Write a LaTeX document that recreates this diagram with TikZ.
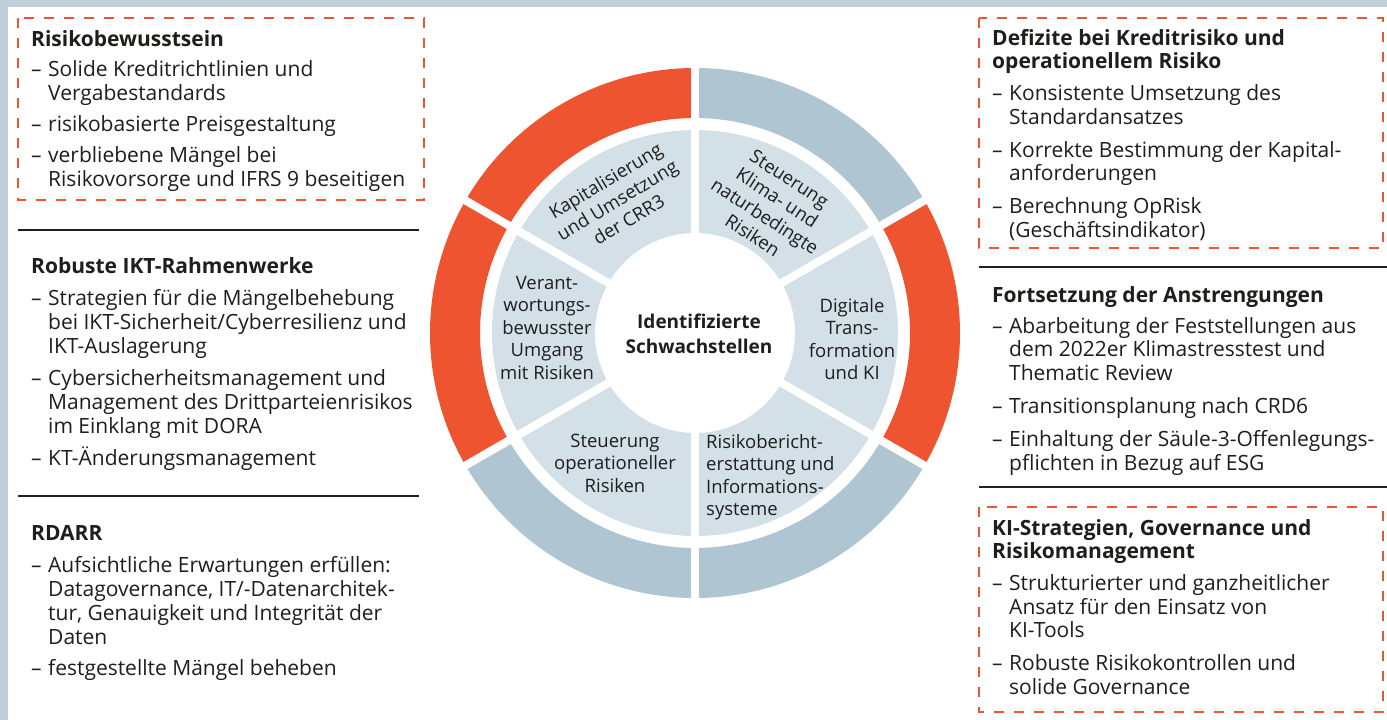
\documentclass[tikz,border=0pt]{standalone}
\usepackage{fontspec}
\setmainfont{Open Sans}
\definecolor{frameblue}{HTML}{C0CED8}
\definecolor{accent}{HTML}{EF5431}
\definecolor{ringblue}{HTML}{AFC5D2}
\definecolor{segblue}{HTML}{D3E0E8}
\definecolor{ink}{HTML}{1E1E1C}
\definecolor{rule}{HTML}{231F20}
% list helpers: dash with hanging indent
\newcommand\itm{\makebox[17pt][l]{–}}
\newcommand\cnt{\hspace*{17pt}}
% one ring sector: colour, start angle, end angle, inner radius, outer radius
\newcommand\ringsector[5]{\fill[#1] (#2:#4) arc[start angle=#2,end angle=#3,radius=#4] -- (#3:#5) arc[start angle=#3,end angle=#2,radius=#5] -- cycle;}
\tikzset{
  listL/.style={anchor=north west, inner sep=0pt, align=left, text=ink,
    font=\fontsize{21}{24}\selectfont},
  listR/.style={anchor=north west, inner sep=0pt, align=left, text=ink,
    font=\fontsize{21}{23.5}\selectfont},
  wheeltxt/.style={inner sep=0pt, align=center, text=ink,
    font=\fontsize{18.5}{22.5}\selectfont},
  dashbox/.style={draw=accent, line width=2.7pt, dash pattern=on 10pt off 10pt},
  sepline/.style={draw=rule, line width=2.7pt},
}
\begin{document}
\begin{tikzpicture}[x=1pt,y=1pt]
\useasboundingbox (0,0) rectangle (1387,720);
\fill[white] (0,0) rectangle (1387,720);
% frame bands
\fill[frameblue] (0,713) rectangle (1387,720);
\fill[frameblue] (0,0) rectangle (7.5,720);

% ---------- wheel ----------
\begin{scope}[shift={(695,387)}]
  \ringsector{accent}{90}{150}{215}{265}
  \ringsector{ringblue}{30}{90}{215}{265}
  \ringsector{accent}{-30}{30}{215}{265}
  \ringsector{ringblue}{-90}{-30}{215}{265}
  \ringsector{ringblue}{-150}{-90}{215}{265}
  \ringsector{accent}{150}{210}{215}{265}
  \ringsector{segblue}{0}{360}{100}{203}
  \foreach \a in {30,90,...,330}
    \draw[white, line width=8pt] (\a:90) -- (\a:272);
\end{scope}

\node[wheeltxt, font=\fontsize{19}{25}\selectfont\bfseries, anchor=north]
  (core) at (699,409.5) {\strut Identifizierte\\Schwachstellen};
\node[wheeltxt, anchor=north] (resp) at (547,446.75)
  {\strut Verant-\\wortungs-\\bewusster\\Umgang\\mit Risiken};
\node[wheeltxt, anchor=north] (digi) at (852,423.75)
  {\strut Digitale\\Trans-\\formation\\und KI};
\node[wheeltxt, anchor=north] (oper) at (615,288.75)
  {\strut Steuerung\\operationeller\\Risiken};
\node[wheeltxt, align=left, anchor=north west] (rdarr) at (706,287.75)
  {\strut Risikobericht-\\erstattung und\\Informations-\\systeme};
\node[wheeltxt, rotate=31] (capital) at (617,520)
  {Kapitalisierung\\und Umsetzung\\der CRR3};
\node[wheeltxt, rotate=-33] (climate) at (771,513)
  {Steuerung\\Klima- und\\naturbedingte\\Risiken};

% ---------- left column ----------
\draw[dashbox] (18,702) rectangle (424,520);
\node[listL] (awareness) at (31,690.8) {\strut\textbf{Risikobewusstsein}\\[6pt]
  \itm Solide Kreditrichtlinien und\\
  \cnt Vergabestandards\\[7pt]
  \itm risikobasierte Preisgestaltung\\[7pt]
  \itm verbliebene Mängel bei\\
  \cnt Risikovorsorge und IFRS 9 beseitigen};

\draw[sepline] (18,490) -- (419,490);
\node[listL] (ict) at (31,463.8) {\strut\textbf{Robuste IKT-Rahmenwerke}\\[8pt]
  \itm Strategien für die Mängelbehebung\\
  \cnt bei IKT-Sicherheit/Cyberresilienz und\\
  \cnt IKT-Auslagerung\\[8pt]
  \itm Cybersicherheitsmanagement und\\
  \cnt Management des Drittparteienrisikos\\
  \cnt im Einklang mit DORA\\[8pt]
  \itm KT-Änderungsmanagement};

\draw[sepline] (18,224) -- (419,224);
\node[listL] (data) at (31,196.8) {\strut\textbf{RDARR}\\[8pt]
  \itm Aufsichtliche Erwartungen erfüllen:\\
  \cnt Datagovernance, IT/-Datenarchitek-\\
  \cnt tur, Genauigkeit und Integrität der\\
  \cnt Daten\\[7pt]
  \itm festgestellte Mängel beheben};

% ---------- right column ----------
\draw[dashbox] (979,702) rectangle (1383,472);
\node[listR] (deficits) at (992,691.45) {\strut\textbf{Defizite bei Kreditrisiko und}\\
  \textbf{operationellem Risiko}\\[8.5pt]
  \itm Konsistente Umsetzung des\\
  \cnt Standardansatzes\\[9.5pt]
  \itm Korrekte Bestimmung der Kapital-\\
  \cnt anforderungen\\[9.5pt]
  \itm Berechnung OpRisk\\
  \cnt (Geschäftsindikator)};

\draw[sepline] (979,453) -- (1387,453);
\node[listR] (effort) at (992,434.45) {\strut\textbf{Fortsetzung der Anstrengungen}\\[7.5pt]
  \itm Abarbeitung der Feststellungen aus\\
  \cnt dem 2022er Klimastresstest und\\
  \cnt Thematic Review\\[9.5pt]
  \itm Transitionsplanung nach CRD6\\[10pt]
  \itm Einhaltung der Säule-3-Offenlegungs-\\
  \cnt pflichten in Bezug auf ESG};

\draw[sepline] (979,233) -- (1387,233);
\draw[dashbox] (979,213) rectangle (1383,8);
\node[listR] (ai) at (992,201.45) {\strut\textbf{KI-Strategien, Governance und}\\
  \textbf{Risikomanagement}\\[8.5pt]
  \itm Strukturierter und ganzheitlicher\\
  \cnt Ansatz für den Einsatz von\\
  \cnt KI-Tools\\[9.5pt]
  \itm Robuste Risikokontrollen und\\
  \cnt solide Governance};
\end{tikzpicture}
\end{document}
